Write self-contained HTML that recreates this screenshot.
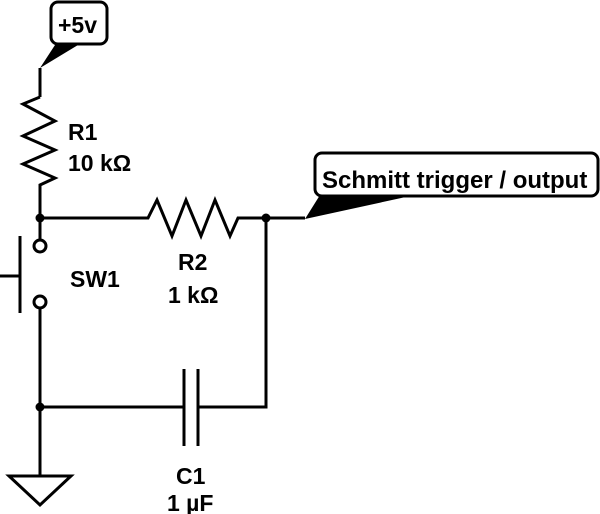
<!DOCTYPE html>
<html><head><style>
html,body{margin:0;padding:0;background:#fff;}
svg{display:block;}
text{font-family:"Liberation Sans",Arial,sans-serif;font-weight:bold;font-size:23px;fill:#000;}
</style></head><body>
<svg width="600" height="514" viewBox="0 0 600 514" xmlns="http://www.w3.org/2000/svg">
<g stroke="#000" stroke-width="3" fill="none" stroke-linejoin="miter">
<rect x="51" y="2" width="56" height="42" rx="7" ry="7"/>
<polyline points="40,97 40,68"/>
<polyline points="40,97 23,104 55,121 23,136 55,150 23,164 55,178 40,185 40,218"/>
<polyline points="40,218 148,218 157,200 172,236 186,200 201,236 215,200 230,236 238,218 305,218"/>
<line x1="40" y1="218" x2="40" y2="240"/>
<circle cx="40" cy="246" r="6"/>
<circle cx="40" cy="302" r="6"/>
<line x1="20" y1="236" x2="20" y2="313"/>
<line x1="0" y1="276" x2="20" y2="276"/>
<line x1="40" y1="308" x2="40" y2="476"/>
<polygon points="9,476 71,476 40,505"/>
<polyline points="266,218 266,407 198,407"/>
<line x1="40" y1="407" x2="184" y2="407"/>
<line x1="184" y1="369" x2="184" y2="446"/>
<line x1="198" y1="369" x2="198" y2="446"/>
<rect x="315" y="153" width="283" height="43" rx="7" ry="7"/>
</g>
<polygon points="40,68 55,45 78,45" fill="#000"/>
<polygon points="305,219 320,195 415,195" fill="#000"/>
<circle cx="40" cy="218" r="4.5" fill="#000"/>
<circle cx="266" cy="218" r="4.5" fill="#000"/>
<circle cx="40" cy="407" r="4.5" fill="#000"/>
<text x="58" y="33" style="font-size:23px">+5v</text>
<text x="68" y="140">R1</text>
<text x="68" y="171">10 kΩ</text>
<text x="70" y="287">SW1</text>
<text x="178" y="270">R2</text>
<text x="168" y="303">1 kΩ</text>
<text x="176" y="484">C1</text>
<text x="167" y="511">1 µF</text>
<text x="322" y="188" style="font-size:24px">Schmitt trigger / output</text>
</svg>
</body></html>
